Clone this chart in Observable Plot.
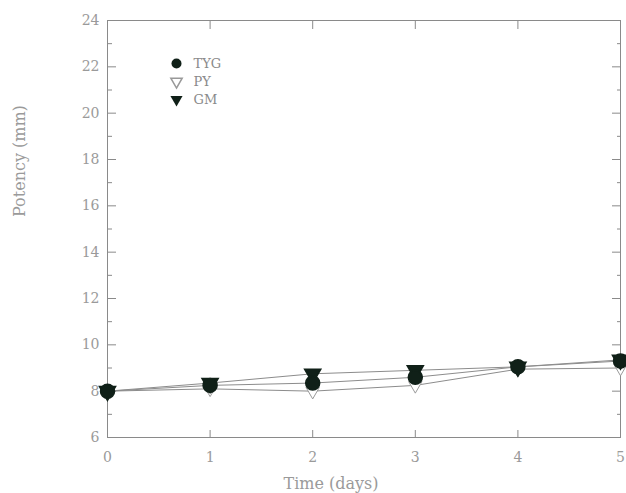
<!DOCTYPE html>
<html>
<head>
<meta charset="utf-8">
<script src="https://cdn.jsdelivr.net/npm/d3@7"></script>
<script src="https://cdn.jsdelivr.net/npm/@observablehq/plot@0.6"></script>
<style>
  html, body { margin: 0; padding: 0; background: #fff; }
  #chart { position: relative; width: 626px; height: 493px; }
</style>
</head>
<body>
<div id="chart"></div>
<script>
// Data
const days = [0, 1, 2, 3, 4, 5];
const tyg  = [8.0, 8.25, 8.35, 8.6, 9.05, 9.3];
const py   = [8.0, 8.1, 8.0, 8.25, 8.95, 9.0];
const gm   = [8.0, 8.35, 8.75, 8.9, 9.05, 9.35];
const seriesNames = ["TYG", "PY", "GM"];
const xTicks = [0, 1, 2, 3, 4, 5];
const yTicks = [6, 8, 10, 12, 14, 16, 18, 20, 22, 24];
const yMinor = [7, 9, 11, 13, 15, 17, 19, 21, 23];

const rows = (vals, name) => days.map((d, i) => ({day: d, value: vals[i], series: name}));
const dTYG = rows(tyg, "TYG"), dPY = rows(py, "PY"), dGM = rows(gm, "GM");

const triangleDown = {
  draw(context, size) {
    const R = Math.sqrt(4 * size / (3 * Math.sqrt(3)));
    context.moveTo(0, R);
    context.lineTo(R * Math.sqrt(3) / 2, -R / 2);
    context.lineTo(-R * Math.sqrt(3) / 2, -R / 2);
    context.closePath();
  }
};

const ink = "#102018";
const axisGrey = "#8a8a8a";
const labelGrey = "#9a9a9a";

const chart = Plot.plot({
  width: 626,
  height: 493,
  marginLeft: 107,
  marginRight: 6,
  marginTop: 20,
  marginBottom: 56,
  x: {domain: [0, 5]},
  y: {domain: [6, 24]},
  style: {fontFamily: "'DejaVu Serif', 'Liberation Serif', serif", fontSize: "14px", color: labelGrey, background: "#fff"},
  marks: [
    Plot.frame({stroke: axisGrey}),
    // inward ticks
    Plot.axisY(yTicks, {anchor: "left", tickSize: 9, dx: 9, text: null, stroke: axisGrey, label: null}),
    Plot.axisY(yMinor, {anchor: "left", tickSize: 5, dx: 5, text: null, stroke: axisGrey, label: null}),
    Plot.axisY(yTicks, {anchor: "right", tickSize: 9, dx: -9, text: null, stroke: axisGrey, label: null}),
    Plot.axisY(yMinor, {anchor: "right", tickSize: 4, dx: -4, text: null, stroke: axisGrey, label: null}),
    Plot.axisX(xTicks, {anchor: "bottom", tickSize: 7, dy: -7, text: null, stroke: axisGrey, label: null}),
    Plot.axisX(xTicks, {anchor: "top", tickSize: 8, dy: 8, text: null, stroke: axisGrey, label: null}),
    // tick labels
    Plot.axisY(yTicks, {anchor: "left", tickSize: 0, tickPadding: 8, label: null, fill: labelGrey, fontSize: 14}),
    Plot.axisX(xTicks, {anchor: "bottom", tickSize: 0, tickPadding: 15, label: null, fill: labelGrey, fontSize: 14}),
    // axis titles
    Plot.text(["Potency (mm)"], {frameAnchor: "left", dx: -88, dy: -12, rotate: -90, fill: labelGrey, fontSize: 16, text: d => d}),
    Plot.text(["Time (days)"], {frameAnchor: "bottom", dx: -33, dy: 51, fill: labelGrey, fontSize: 16, text: d => d}),
    // lines
    Plot.line(dPY, {x: "day", y: "value", stroke: "#8c8c8c", strokeWidth: 1}),
    Plot.line(dTYG, {x: "day", y: "value", stroke: "#8c8c8c", strokeWidth: 1}),
    Plot.line(dGM, {x: "day", y: "value", stroke: "#8c8c8c", strokeWidth: 1}),
    // markers
    Plot.dot(dPY, {x: "day", y: "value", symbol: triangleDown, r: 5, fill: "#fff", stroke: "#9a9a9a", strokeWidth: 1}),
    Plot.dot(dGM, {x: "day", y: "value", symbol: triangleDown, r: 6, fill: ink, stroke: ink}),
    Plot.dot(dTYG, {x: "day", y: "value", symbol: "circle", r: 7, fill: ink, stroke: ink}),
    // legend
    Plot.dot([seriesNames[0]], {frameAnchor: "top-left", dx: 69, dy: 43, symbol: "circle", r: 5, fill: ink}),
    Plot.dot([seriesNames[1]], {frameAnchor: "top-left", dx: 69, dy: 61, symbol: triangleDown, r: 4.2, fill: "#fff", stroke: "#999"}),
    Plot.dot([seriesNames[2]], {frameAnchor: "top-left", dx: 69, dy: 79, symbol: triangleDown, r: 4.5, fill: ink}),
    Plot.text([seriesNames[0]], {frameAnchor: "top-left", dx: 86, dy: 43, textAnchor: "start", lineAnchor: "middle", fill: "#8a8a8a", fontSize: 13, text: d => d}),
    Plot.text([seriesNames[1]], {frameAnchor: "top-left", dx: 86, dy: 61, textAnchor: "start", lineAnchor: "middle", fill: "#8a8a8a", fontSize: 13, text: d => d}),
    Plot.text([seriesNames[2]], {frameAnchor: "top-left", dx: 86, dy: 79, textAnchor: "start", lineAnchor: "middle", fill: "#8a8a8a", fontSize: 13, text: d => d})
  ]
});
document.getElementById("chart").appendChild(chart);
</script>
</body>
</html>
